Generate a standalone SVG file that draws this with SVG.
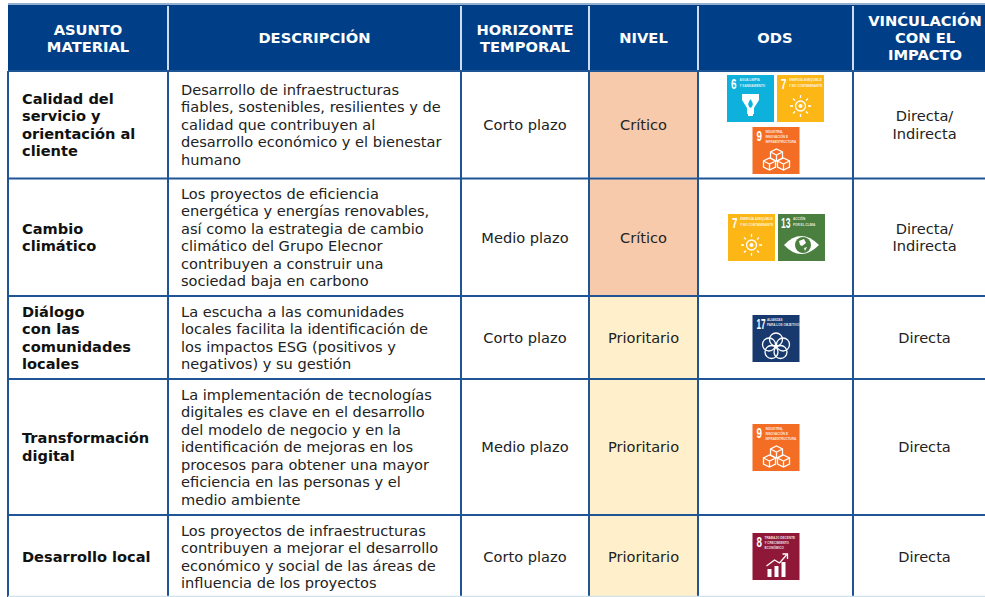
<svg xmlns="http://www.w3.org/2000/svg" width="985" height="597" viewBox="0 0 985 597">
<style>
text{font-family:"DejaVu Sans",Verdana,sans-serif}
.h{font-weight:700;font-size:14.7px;fill:#fff;text-anchor:middle}
.b{font-weight:700;font-size:14.6px;fill:#111}
.d{font-size:14.6px;fill:#222}
.c{font-size:14.6px;fill:#222;text-anchor:middle}
.g{stroke:#1f5495;stroke-width:2;fill:none}
.gw{stroke:#cfdcec;stroke-width:2;fill:none}
.t{font-family:"Liberation Sans",Arial,sans-serif;font-weight:700;fill:#fff;font-size:3.100px;opacity:.85}
.n{font-family:"Liberation Sans",Arial,sans-serif;font-weight:700;fill:#fff;font-size:14px}
.i{fill:#fff}
.s{stroke:#fff;fill:none;stroke-width:1.300}
</style>
<defs>
<g id="t6"><rect width="47" height="47" fill="#0eb1dc"/><text class="n" x="4" y="14" textLength="5.500" lengthAdjust="spacingAndGlyphs">6</text><text class="t" x="12.500" y="6">AGUA LIMPIA</text><text class="t" x="12.500" y="12">Y SANEAMIENTO</text><path class="i" d="M15 19H32V25L27 33V39H26V41H21V39H20V33L15 25Z"/><path fill="#0eb1dc" d="M23.500 24C26 28 27 30 23.500 33C20 30 21 28 23.500 24Z"/></g>
<g id="t7"><rect width="47" height="47" fill="#fcb615"/><text class="n" x="4" y="14" textLength="5.500" lengthAdjust="spacingAndGlyphs">7</text><text class="t" x="12" y="6">ENERGÍA ASEQUIBLE</text><text class="t" x="12" y="12">Y NO CONTAMINANTE</text><circle class="s" cx="23.500" cy="31" r="5"/><circle class="i" cx="23.500" cy="31" r="2"/><path class="s" stroke-width="1" d="M23.500 20V23M23.500 39V42M13 31H16M31 31H34M16 23.500L18 25.500M29 36.500L31 38.500M31 23.500L29 25.500M18 36.500L16 38.500"/></g>
<g id="t9"><rect width="47" height="47" fill="#f36d24"/><text class="n" x="4" y="14" textLength="5.500" lengthAdjust="spacingAndGlyphs">9</text><text class="t" x="13" y="6">INDUSTRIA,</text><text class="t" x="13" y="11">INNOVACIÓN E</text><text class="t" x="13" y="16">INFRAESTRUCTURA</text><path class="s" d="M24 22L30 25V31L24 34L18 31V25ZM18 25L24 28L30 25M24 28V34M17 31L23 34V40L17 43L11 40V34ZM11 34L17 37L23 34M17 37V43M31 31L37 34V40L31 43L25 40V34ZM25 34L31 37L37 34M31 37V43"/></g>
<g id="t13"><rect width="47" height="47" fill="#4a7f3f"/><text class="n" x="3" y="14" textLength="9.500" lengthAdjust="spacingAndGlyphs">13</text><text class="t" x="15" y="6">ACCIÓN</text><text class="t" x="15" y="12">POR EL CLIMA</text><path class="i" d="M6 31Q23 13 41 31Q23 49 6 31Z"/><circle cx="25" cy="31" r="8" fill="#4a7f3f"/><path class="i" d="M21 27L26 25L28 29L24 32L22 31ZM26 34L29 33L27 37Z"/></g>
<g id="t17"><rect width="47" height="47" fill="#18396e"/><text class="n" x="4" y="14" textLength="9" lengthAdjust="spacingAndGlyphs">17</text><text class="t" x="14.500" y="6">ALIANZAS</text><text class="t" x="14.500" y="11">PARA LOS OBJETIVOS</text><g class="s"><circle cx="23.500" cy="24.500" r="6.500"/><circle cx="16.500" cy="29.500" r="6.500"/><circle cx="30.500" cy="29.500" r="6.500"/><circle cx="19" cy="37" r="6.500"/><circle cx="28" cy="37" r="6.500"/></g></g>
<g id="t8"><rect width="47" height="47" fill="#8f1838"/><text class="n" x="4" y="14" textLength="5.500" lengthAdjust="spacingAndGlyphs">8</text><text class="t" x="12" y="6">TRABAJO DECENTE</text><text class="t" x="12" y="11">Y CRECIMIENTO</text><text class="t" x="12" y="16">ECONÓMICO</text><path class="i" d="M15 36H19V44H15ZM22 33H26V44H22ZM29 29H33V44H29Z"/><path class="s" d="M14 33L22 27L27 30L34 22M30 21H35V26"/></g>
</defs>
<rect width="985" height="597" fill="#fff"/>
<rect x="8" y="5" width="977" height="65.500" fill="#003f87"/>
<path d="M8 4H985" stroke="#6f94bf" stroke-width="1.500"/>
<rect x="590" y="72" width="107" height="105.500" fill="#f7caac"/>
<rect x="590" y="179" width="107" height="116" fill="#f7caac"/>
<rect x="590" y="297" width="107" height="300" fill="#fff0cb"/>
<g class="g">
<path d="M8 71H985M8 178.500H985M8 296H985M8 379H985M8 515H985"/>
<path d="M8 71V597M168 71V597M461 71V597M589 71V597M698 71V597M853 71V597"/>
</g>
<path class="gw" d="M168 6V70M461 6V70M589 6V70M698 6V70M853 6V70"/>
<path d="M8 596.500H985" stroke="#cfe2ec" stroke-width="1.500"/>
<g>
<text class="h" x="88" y="35">ASUNTO</text><text class="h" x="88" y="52">MATERIAL</text>
<text class="h" x="314.500" y="43">DESCRIPCIÓN</text>
<text class="h" x="525" y="35">HORIZONTE</text><text class="h" x="525" y="52">TEMPORAL</text>
<text class="h" x="643.500" y="43">NIVEL</text>
<text class="h" x="775" y="43">ODS</text>
<text class="h" x="925" y="26">VINCULACIÓN</text><text class="h" x="925" y="43">CON EL</text><text class="h" x="925" y="60">IMPACTO</text>
</g>
<g>
<text class="b" x="22" y="104">Calidad del</text><text class="b" x="22" y="121">servicio y</text><text class="b" x="22" y="139">orientación al</text><text class="b" x="22" y="156">cliente</text>
<text class="b" x="22" y="234">Cambio</text><text class="b" x="22" y="251">climático</text>
<text class="b" x="22" y="317">Diálogo</text><text class="b" x="22" y="334">con las</text><text class="b" x="22" y="352">comunidades</text><text class="b" x="22" y="369">locales</text>
<text class="b" x="22" y="443">Transformación</text><text class="b" x="22" y="461">digital</text>
<text class="b" x="22" y="562">Desarrollo local</text>
</g>
<g>
<text class="d" x="181" y="95">Desarrollo de infraestructuras</text>
<text class="d" x="181" y="112">fiables, sostenibles, resilientes y de</text>
<text class="d" x="181" y="130">calidad que contribuyen al</text>
<text class="d" x="181" y="147">desarrollo económico y el bienestar</text>
<text class="d" x="181" y="165">humano</text>
<text class="d" x="181" y="199">Los proyectos de eficiencia</text>
<text class="d" x="181" y="216">energética y energías renovables,</text>
<text class="d" x="181" y="234">así como la estrategia de cambio</text>
<text class="d" x="181" y="251">climático del Grupo Elecnor</text>
<text class="d" x="181" y="269">contribuyen a construir una</text>
<text class="d" x="181" y="286">sociedad baja en carbono</text>
<text class="d" x="181" y="317">La escucha a las comunidades</text>
<text class="d" x="181" y="334">locales facilita la identificación de</text>
<text class="d" x="181" y="352">los impactos ESG (positivos y</text>
<text class="d" x="181" y="369">negativos) y su gestión</text>
<text class="d" x="181" y="400">La implementación de tecnologías</text>
<text class="d" x="181" y="417">digitales es clave en el desarrollo</text>
<text class="d" x="181" y="435">del modelo de negocio y en la</text>
<text class="d" x="181" y="452">identificación de mejoras en los</text>
<text class="d" x="181" y="470">procesos para obtener una mayor</text>
<text class="d" x="181" y="487">eficiencia en las personas y el</text>
<text class="d" x="181" y="505">medio ambiente</text>
<text class="d" x="181" y="536">Los proyectos de infraestructuras</text>
<text class="d" x="181" y="553">contribuyen a mejorar el desarrollo</text>
<text class="d" x="181" y="571">económico y social de las áreas de</text>
<text class="d" x="181" y="588">influencia de los proyectos</text>
</g>
<g>
<text class="c" x="525" y="130">Corto plazo</text><text class="c" x="525" y="243">Medio plazo</text><text class="c" x="525" y="343">Corto plazo</text><text class="c" x="525" y="452">Medio plazo</text><text class="c" x="525" y="562">Corto plazo</text>
<text class="c" x="643.500" y="130">Crítico</text><text class="c" x="643.500" y="243">Crítico</text><text class="c" x="643.500" y="343">Prioritario</text><text class="c" x="643.500" y="452">Prioritario</text><text class="c" x="643.500" y="562">Prioritario</text>
<text class="c" x="924.500" y="121">Directa/</text><text class="c" x="924.500" y="139">Indirecta</text>
<text class="c" x="924.500" y="234">Directa/</text><text class="c" x="924.500" y="251">Indirecta</text>
<text class="c" x="924.500" y="343">Directa</text><text class="c" x="924.500" y="452">Directa</text><text class="c" x="924.500" y="562">Directa</text>
</g>
<g>
<use href="#t6" x="727" y="75"/><use href="#t7" x="777" y="75"/><use href="#t9" x="752.500" y="127"/>
<use href="#t7" x="728" y="214"/><use href="#t13" x="778" y="214"/>
<use href="#t17" x="752.500" y="315"/><use href="#t9" x="752.500" y="424"/><use href="#t8" x="752.500" y="533"/>
</g>
</svg>
